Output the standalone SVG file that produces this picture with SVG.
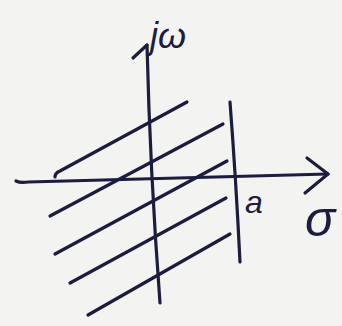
<svg xmlns="http://www.w3.org/2000/svg" width="342" height="326" viewBox="0 0 342 326">
<style>
.ink{fill:none;stroke:#1c1c3e;stroke-width:3.2;stroke-linecap:round;stroke-linejoin:round}
.lbl{fill:#1c1c3e;font-family:"Liberation Sans",Arial,sans-serif;font-style:italic}
</style>
<rect width="342" height="326" fill="#f3f3f1"/>
<g id="hatch" class="ink">
<path d="M55,177 Q55,173 60,171 L187,102"/>
<path d="M50,216 L223,124"/>
<path d="M55,254 L227,161"/>
<path d="M70,283 L226,198"/>
<path d="M88,315 L230,234"/>
</g>
<g id="connectors" class="ink">
<g id="sigma-axis">
<path d="M16,181 Q20,183 28,182 L328,174"/>
<path d="M307,158 L328,174 L305,193"/>
</g>
<g id="jw-axis">
<path d="M147,45 Q150,170 160,303"/>
<path d="M133,58 L147,45"/>
</g>
<g id="line-a">
<path d="M230,102 Q236,180 240,262"/>
</g>
</g>
<g id="labels">
<text id="jw-label" class="lbl" x="150" y="48" font-size="36">jω</text>
<text id="a-label" class="lbl" x="245" y="213" font-size="32">a</text>
<text id="sigma-label" class="lbl" x="305" y="236" font-size="50">σ</text>
</g>
</svg>
